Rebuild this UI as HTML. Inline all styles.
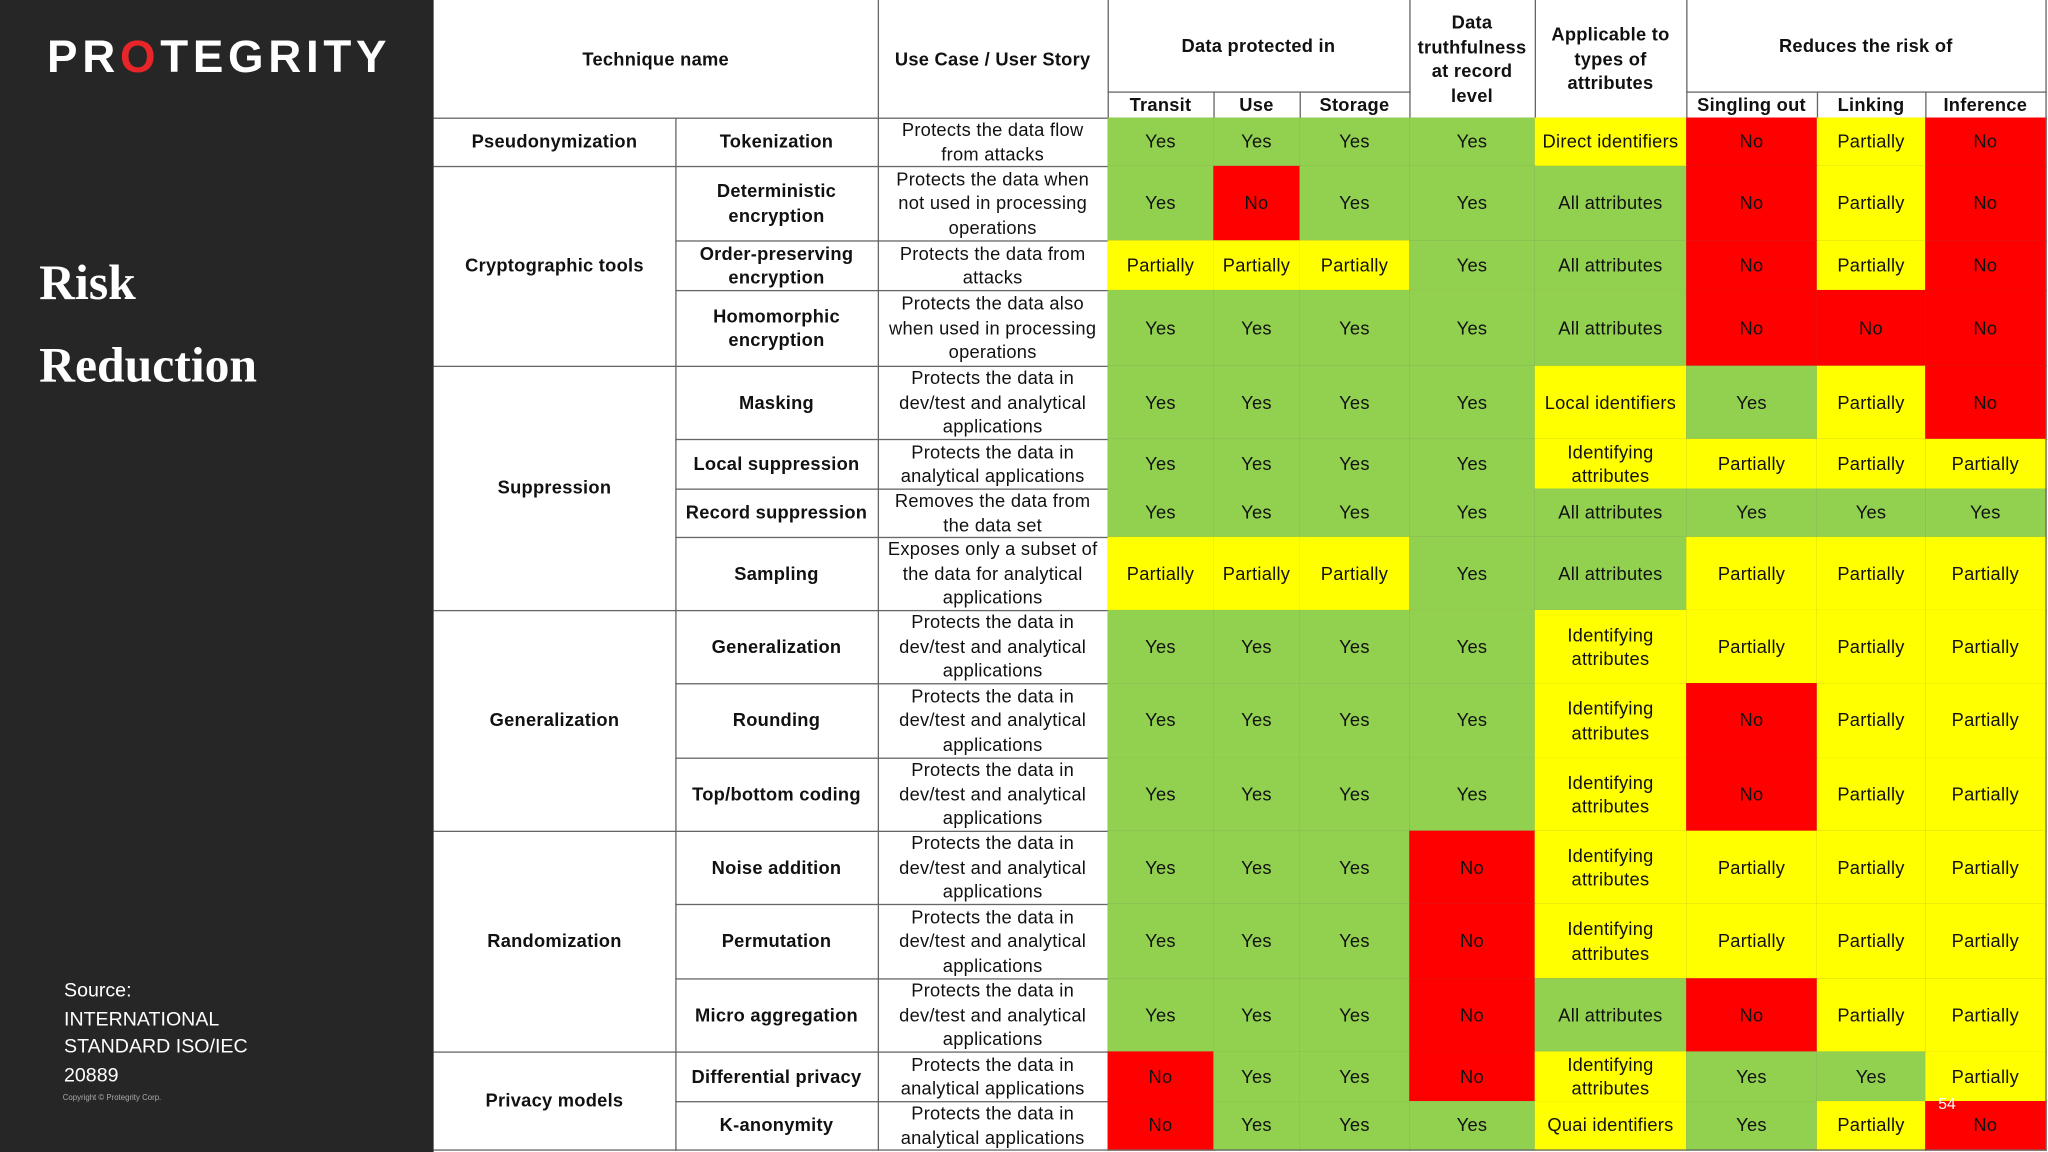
<!DOCTYPE html>
<html><head><meta charset="utf-8">
<style>
html,body{margin:0;padding:0;width:2048px;height:1152px;overflow:hidden;background:#fff}
#wrap{position:absolute;left:0;top:0;width:1568px;height:882px;transform:scale(1.306122);transform-origin:0 0;font-family:"Liberation Sans",sans-serif}
#panel{position:absolute;left:0;top:0;width:332px;height:882px;background:#262626}
.c{position:absolute;box-sizing:border-box;border-right:1px solid #666;border-bottom:1px solid #666;display:flex;align-items:center;justify-content:center;text-align:center;font-size:14px;line-height:18.5px;color:#111;overflow:hidden;letter-spacing:0.2px;padding:0 4px}
.b{font-weight:bold}
</style></head><body>
<div id="wrap">
<div id="panel">
 <div style="position:absolute;left:36px;top:24px;font-size:35px;font-weight:bold;color:#fff;letter-spacing:3.6px">PR<span style="color:#e8262a">O</span>TEGRITY</div>
 <div style="position:absolute;left:30px;top:186px;font-family:'Liberation Serif',serif;font-weight:bold;font-size:38px;line-height:63px;color:#fff">Risk<br>Reduction</div>
 <div style="position:absolute;left:49px;top:748px;font-size:15px;line-height:21.5px;color:#fff">Source:<br>INTERNATIONAL<br>STANDARD ISO/IEC<br>20889</div>
 <div style="position:absolute;left:48px;top:838px;font-size:6px;color:#aaa">Copyright © Protegrity Corp.</div>
</div>
<div id="tbl"></div>
<div style="position:absolute;left:1484px;top:838px;font-size:12px;color:#fff">54</div>
</div>
<script>
const cols=[332,517,672,848,929,995,1079,1175,1291,1391,1474,1566];
const rowH=[37,57,38,58,56,38,37,56,56,57,56,56,57,56,38,37];
const groups=[["Pseudonymization",1],["Cryptographic tools",3],["Suppression",4],["Generalization",3],["Randomization",3],["Privacy models",2]];
const techniques=["Tokenization","Deterministic encryption","Order-preserving encryption","Homomorphic encryption","Masking","Local suppression","Record suppression","Sampling","Generalization","Rounding","Top/bottom coding","Noise addition","Permutation","Micro aggregation","Differential privacy","K-anonymity"];
const useCases=["Protects the data flow from attacks","Protects the data when not used in processing operations","Protects the data from attacks","Protects the data also when used in processing operations","Protects the data in dev/test and analytical applications","Protects the data in analytical applications","Removes the data from the data set","Exposes only a subset of the data for analytical applications","Protects the data in dev/test and analytical applications","Protects the data in dev/test and analytical applications","Protects the data in dev/test and analytical applications","Protects the data in dev/test and analytical applications","Protects the data in dev/test and analytical applications","Protects the data in dev/test and analytical applications","Protects the data in analytical applications","Protects the data in analytical applications"];
const values=[
["Yes","Yes","Yes","Yes","Direct identifiers","No","Partially","No"],
["Yes","No","Yes","Yes","All attributes","No","Partially","No"],
["Partially","Partially","Partially","Yes","All attributes","No","Partially","No"],
["Yes","Yes","Yes","Yes","All attributes","No","No","No"],
["Yes","Yes","Yes","Yes","Local identifiers","Yes","Partially","No"],
["Yes","Yes","Yes","Yes","Identifying attributes","Partially","Partially","Partially"],
["Yes","Yes","Yes","Yes","All attributes","Yes","Yes","Yes"],
["Partially","Partially","Partially","Yes","All attributes","Partially","Partially","Partially"],
["Yes","Yes","Yes","Yes","Identifying attributes","Partially","Partially","Partially"],
["Yes","Yes","Yes","Yes","Identifying attributes","No","Partially","Partially"],
["Yes","Yes","Yes","Yes","Identifying attributes","No","Partially","Partially"],
["Yes","Yes","Yes","No","Identifying attributes","Partially","Partially","Partially"],
["Yes","Yes","Yes","No","Identifying attributes","Partially","Partially","Partially"],
["Yes","Yes","Yes","No","All attributes","No","Partially","Partially"],
["No","Yes","Yes","No","Identifying attributes","Yes","Yes","Partially"],
["No","Yes","Yes","Yes","Quai identifiers","Yes","Partially","No"]];
const T=document.getElementById('tbl');
function cell(x0,x1,y0,y1,txt,cls,bg,name){
 const d=document.createElement('div');
 d.className='c '+(cls||'');
 d.style.left=x0+'px';d.style.top=y0+'px';d.style.width=(x1-x0+1)+'px';d.style.height=(y1-y0+1)+'px';
 if(bg)d.style.background=bg;
 d.innerHTML=txt;
 
 
 T.appendChild(d);return d;
}
function color(v){if(v==="Yes"||v==="All attributes")return "#92d050";if(v==="No")return "#ff0000";return "#ffff00";}
const h1=0,h2=70,h3=90;
cell(cols[0],cols[2],h1,h3,"Technique name","b",null,"header-technique-name");
cell(cols[2],cols[3],h1,h3,"Use Case / User Story","b",null,"header-use-case");
cell(cols[3],cols[6],h1,h2,"Data protected in","b",null,"header-data-protected");
cell(cols[6],cols[7],h1,h3,"Data truthfulness at record level","b",null,"header-truthfulness");
cell(cols[7],cols[8],h1,h3,"Applicable to types of attributes","b",null,"header-attributes");
cell(cols[8],cols[11],h1,h2,"Reduces the risk of","b",null,"header-reduces-risk");
const sub=["Transit","Use","Storage"],sub2=["Singling out","Linking","Inference"];
sub.forEach((s,i)=>cell(cols[3+i],cols[4+i],h2,h3,s,"b",null,"subheader-"+s.toLowerCase()));
sub2.forEach((s,i)=>cell(cols[8+i],cols[9+i],h2,h3,s,"b",null,"subheader-"+s.toLowerCase().replace(' ','-')));
const ys=[h3];rowH.forEach(h=>ys.push(ys[ys.length-1]+h));
let r=0;
groups.forEach(g=>{cell(cols[0],cols[1],ys[r],ys[r+g[1]],g[0],"b",null,"group-"+g[0].toLowerCase().replace(/ /g,'-'));r+=g[1];});
techniques.forEach((t,i)=>{
 const slug=t.toLowerCase().replace(/[^a-z]+/g,'-');
 cell(cols[1],cols[2],ys[i],ys[i+1],t,"b",null,"technique-"+slug);
 cell(cols[2],cols[3],ys[i],ys[i+1],useCases[i],"",null,"use-case-"+slug);
 values[i].forEach((v,j)=>cell(cols[3+j],cols[4+j],ys[i],ys[i+1],v,"",color(v),"cell-"+slug+"-"+j));
});
</script>
</body></html>
